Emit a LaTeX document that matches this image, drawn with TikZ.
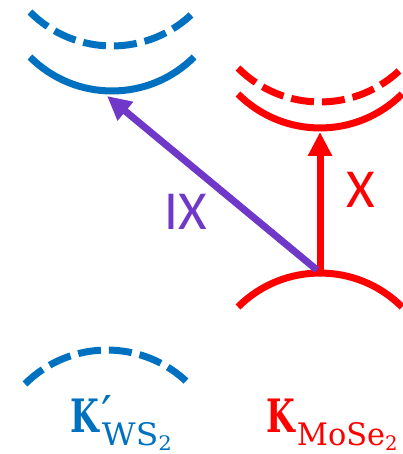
\documentclass[tikz,border=0pt]{standalone}
\usepackage{fontspec}
\usepackage{graphicx}
\usetikzlibrary{arrows.meta}
\newfontfamily\sansfnt{Carlito}
\newfontfamily\serfnt{DejaVu Serif}
\definecolor{kblue}{RGB}{0,112,192}
\definecolor{kred}{RGB}{255,0,0}
\definecolor{kpurple}{RGB}{112,56,200}
\begin{document}
\begin{tikzpicture}[x=1pt,y=1pt,
  band/.style={line width=7pt},
  dashband/.style={line width=7pt, dash pattern=on 23pt off 8pt},
  tr/.style={line width=7pt, -{Triangle[length=24pt,width=23pt]}},
  lbl/.style={font=\sansfnt\fontsize{55}{55}\selectfont, inner sep=0pt},
  klbl/.style={anchor=base west, inner sep=0pt},
]
\useasboundingbox (0,0) rectangle (403,-454);
% blue valleys (WS2)
\draw[dashband,kblue] (112-82,-46+34) arc[start angle=225,end angle=315,radius=116];
\draw[band,kblue] (112-82,-91+34) arc[start angle=225,end angle=315,radius=116];
% red valleys (MoSe2)
\draw[dashband,kred] (320-82,-102+34) arc[start angle=225,end angle=315,radius=116];
\draw[band,kred] (320-82,-128+34) arc[start angle=225,end angle=315,radius=116];
\draw[band,kred] (320-82,-273-34) arc[start angle=135,end angle=45,radius=116];
% blue lower dashed
\draw[dashband,kblue] (107-82,-350-34) arc[start angle=135,end angle=45,radius=116];
% transitions
\coordinate (redlow) at (320,-273);
\coordinate (redup) at (320,-132);
\coordinate (ixstart) at (317,-270);
\coordinate (blueup) at (107,-96);
\draw[tr,kred] (redlow) -- (redup);
\draw[tr,kpurple] (ixstart) -- (blueup);
\node[lbl,text=kpurple] (ix) at (186,-212) {IX};
\node[lbl,text=kred] (x) at (361,-190) {X};
% labels
\node[klbl,text=kblue] (kws) at (70,-432) {\serfnt{\fontsize{46}{46}\selectfont\bfseries\scalebox{0.72}[1]{K}}\kern3pt\rlap{\raisebox{2pt}{\fontsize{48}{48}\selectfont ′}}\raisebox{-13pt}{\scalebox{1.06}[1]{\fontsize{31}{31}\selectfont WS\raisebox{-5pt}{\fontsize{20}{20}\selectfont 2}}}};
\node[klbl,text=kred] (kmo) at (266,-432) {\serfnt{\fontsize{46}{46}\selectfont\bfseries\scalebox{0.72}[1]{K}}\kern2pt\raisebox{-13pt}{\scalebox{0.98}[1]{\fontsize{31}{31}\selectfont MoSe\raisebox{-5pt}{\fontsize{20}{20}\selectfont 2}}}};
\end{tikzpicture}
\end{document}
